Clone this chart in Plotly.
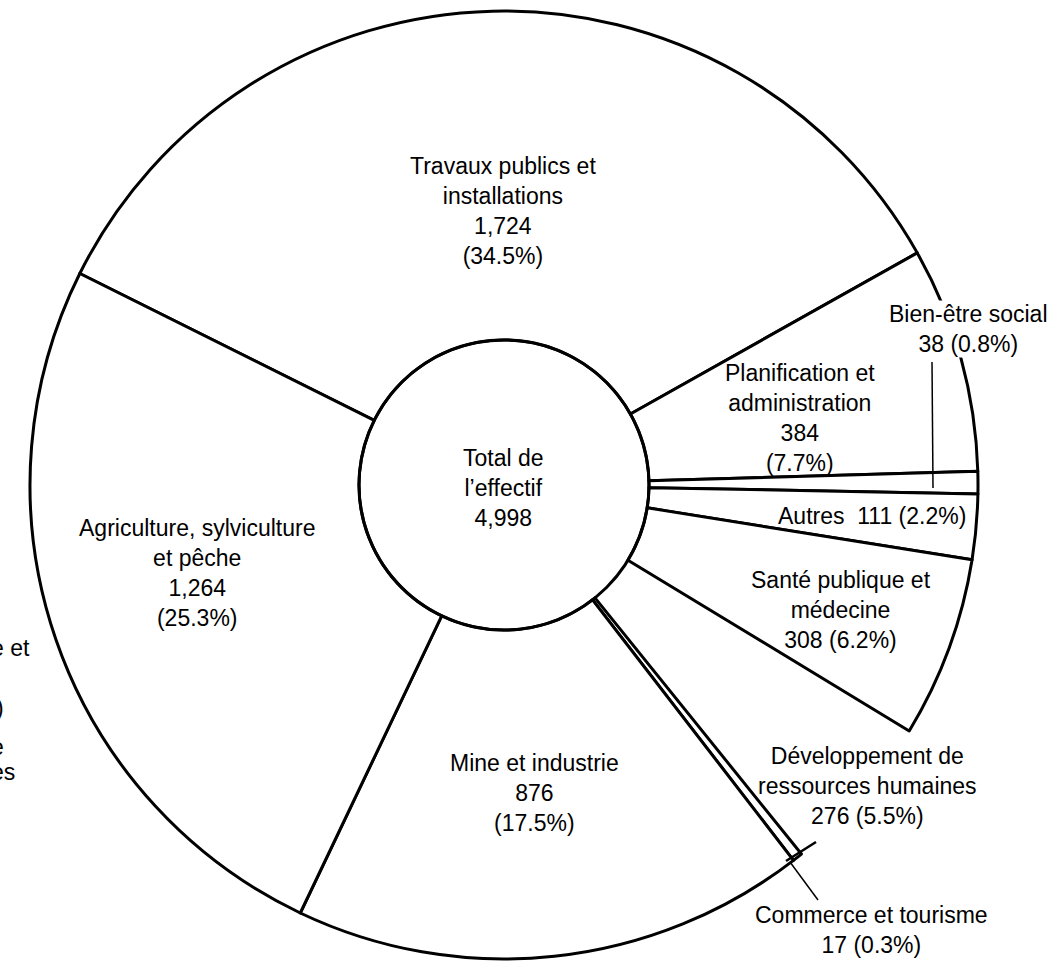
import plotly.graph_objects as go

# ---------------- data ----------------
categories = [
    "Travaux publics et\ninstallations",
    "Planification et\nadministration",
    "Bien-être social",
    "Autres",
    "Santé publique et\nmédecine",
    "Développement de\nressources humaines",
    "Commerce et tourisme",
    "Mine et industrie",
    "Agriculture, sylviculture\net pêche",
]
effectifs = [1724, 384, 38, 111, 308, 276, 17, 876, 1264]
pourcentages = [34.5, 7.7, 0.8, 2.2, 6.2, 5.5, 0.3, 17.5, 25.3]
centre_titre = ["Total de", "l\u2019effectif"]
fragments_gauche = ["e et", ")", "e", "es"]

# ---------------- layout constants ----------------
W, H = 1060, 961
CX, CY, R = 504, 485, 474          # pie centre / radius in pixels
HOLE_R = 145
FONT = "Liberation Sans, Arial, sans-serif"
FS = 23

def px(x):
    return x / W

def py(y):
    return 1 - y / H

# label layout: (template, x, y) ; {n} name, {v} value, {p} percent
label_layout = [
    ("{n}<br>{v}<br>({p}%)", 503, 211),
    ("{n}<br>{v}<br>({p}%)", 800, 418),
    ("{n}<br>{v} ({p}%)", 968, 329),
    ("{n}  {v} ({p}%)", 872, 516),
    ("{n}<br>{v} ({p}%)", 841, 610),
    ("{n}<br>{v} ({p}%)", 867, 786),
    ("{n}<br>{v} ({p}%)", 871, 930),
    ("{n}<br>{v}<br>({p}%)", 534, 793),
    ("{n}<br>{v}<br>({p}%)", 197, 573),
]

colors = ["white"] * len(categories)
widths = [3] * len(categories)
i_dev = 5
colors[i_dev] = "rgba(0,0,0,0)"
widths[i_dev] = 0

fig = go.Figure(
    go.Pie(
        labels=[c.replace("\n", " ") for c in categories],
        values=effectifs,
        sort=False,
        direction="clockwise",
        rotation=-63.5,
        hole=HOLE_R / R,
        textinfo="none",
        hoverinfo="label+value",
        marker=dict(colors=colors, line=dict(color="black", width=widths)),
        domain=dict(x=[px(CX - R), px(CX + R)], y=[py(CY + R), py(CY - R)]),
        showlegend=False,
    )
)

annotations = []
for cat, v, p, (tpl, x, y) in zip(categories, effectifs, pourcentages, label_layout):
    txt = tpl.format(n=cat.replace("\n", "<br>"), v=f"{v:,}", p=p)
    annotations.append(dict(
        x=px(x), y=py(y), xref="paper", yref="paper", text=txt,
        showarrow=False, xanchor="center", yanchor="middle",
        font=dict(family=FONT, size=FS, color="black"),
        bgcolor="white" if cat == "Bien-être social" else "rgba(0,0,0,0)",
        borderpad=0,
    ))

# centre text
total = sum(effectifs)
annotations.append(dict(
    x=px(503), y=py(488), xref="paper", yref="paper",
    text="<br>".join(centre_titre + [f"{total:,}"]),
    showarrow=False, xanchor="center", yanchor="middle",
    font=dict(family=FONT, size=FS, color="black"),
))

# cropped text fragments at the left edge
for t, (x, y) in zip(fragments_gauche, [(32, 648), (6, 708), (6, 747), (17, 772)]):
    annotations.append(dict(
        x=px(x), y=py(y), xref="paper", yref="paper", text=t,
        showarrow=False, xanchor="right", yanchor="middle",
        font=dict(family=FONT, size=FS, color="black"),
    ))

shapes = [
    # hole outline
    dict(type="circle", xref="paper", yref="paper",
         x0=px(CX - HOLE_R), x1=px(CX + HOLE_R),
         y0=py(CY + HOLE_R), y1=py(CY - HOLE_R),
         line=dict(color="black", width=3)),
    # leader line Bien-être social
    dict(type="line", xref="paper", yref="paper",
         x0=px(932), y0=py(362), x1=px(933), y1=py(488),
         line=dict(color="black", width=1.5)),
    # leader line Commerce et tourisme
    dict(type="line", xref="paper", yref="paper",
         x0=px(790), y0=py(862), x1=px(818), y1=py(900),
         line=dict(color="black", width=1.5)),
    # short arc stub beyond the commerce slice
    dict(type="line", xref="paper", yref="paper",
         x0=px(786), y0=py(861), x1=px(816), y1=py(842),
         line=dict(color="black", width=2.5)),
]

fig.update_layout(
    width=W, height=H,
    margin=dict(l=0, r=0, t=0, b=0),
    paper_bgcolor="white", plot_bgcolor="white",
    annotations=annotations, shapes=shapes,
    font=dict(family=FONT, size=FS, color="black"),
)

fig.write_html(
    "out.html",
    config={"displayModeBar": False},
    post_script="document.body.style.margin='0';document.body.style.overflow='hidden';",
)
